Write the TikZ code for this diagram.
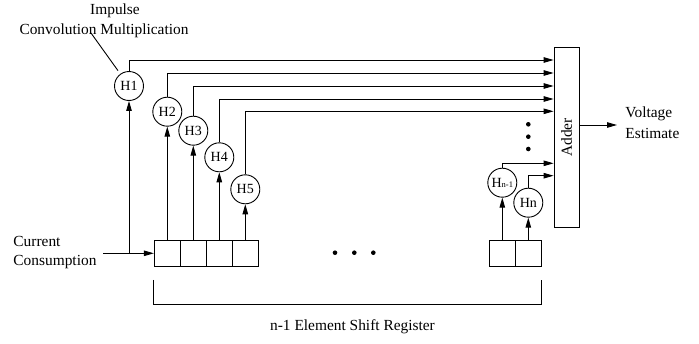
\documentclass[tikz,border=0pt]{standalone}
\usepackage{fontspec}
\setmainfont{Liberation Serif}
\usetikzlibrary{arrows.meta,calc}
\begin{document}
\begin{tikzpicture}[x=1pt,y=-1pt, line width=0.9pt,
  arr/.style={-{Triangle[length=10pt,width=5.5pt]}},
  hcirc/.style={circle,draw,minimum size=29pt,inner sep=0pt,font=\fontsize{14}{14}\selectfont},
  regbox/.style={draw,minimum width=26pt,minimum height=25.5pt,inner sep=0pt},
  lbl/.style={font=\fontsize{15.4}{19}\selectfont, inner sep=0pt},
  dot/.style={circle,fill,inner sep=0pt,minimum size=4.6pt}]
\useasboundingbox (0,0) rectangle (699,343);
% shift register cells
\node[regbox] (r1) at (167.3,253.3) {};
\node[regbox] (r2) at (193.3,253.3) {};
\node[regbox] (r3) at (219.3,253.3) {};
\node[regbox] (r4) at (245.3,253.3) {};
\node[regbox] (s1) at (502.3,253.3) {};
\node[regbox] (s2) at (528.3,253.3) {};
% filters
\node[hcirc] (h1) at (129,86) {H1};
\node[hcirc] (h2) at (167.3,111.7) {H2};
\node[hcirc] (h3) at (193.3,130.7) {H3};
\node[hcirc] (h4) at (219.3,157.3) {H4};
\node[hcirc] (h5) at (245.3,189.3) {H5};
\node[hcirc] (hn1) at (502.3,182.7) {H{\fontsize{8.5}{8.5}\selectfont n-1}};
\node[hcirc] (hn) at (528.3,202.7) {Hn};
% adder
\node[draw,minimum width=25.3pt,minimum height=180pt,inner sep=0pt,lbl] (adder) at (566.7,137.3) {\rotatebox{90}{Adder}};
% levels
\coordinate (y1) at (0,60);
\coordinate (y2) at (0,73);
\coordinate (y3) at (0,86);
\coordinate (y4) at (0,99);
\coordinate (y5) at (0,111.3);
\coordinate (yn1) at (0,163.3);
\coordinate (yn) at (0,175.7);
\draw[arr] (h1.north) |- (adder.west |- y1);
\draw[arr] (h2.north) |- (adder.west |- y2);
\draw[arr] (h3.north) |- (adder.west |- y3);
\draw[arr] (h4.north) |- (adder.west |- y4);
\draw[arr] (h5.north) |- (adder.west |- y5);
\draw[arr] (hn1.north) |- (adder.west |- yn1);
\draw[arr] (hn.north) |- (adder.west |- yn);
% input
\node[lbl,align=left,anchor=west] (cc) at (13,252.2) {Current\\Consumption};
\coordinate (in) at (103,253.3);
\draw[arr] (in) -- (r1.west);
\draw[arr] (h1 |- r1.west) -- (h1.south);
\draw[arr] (r1.north) -- (h2.south);
\draw[arr] (r2.north) -- (h3.south);
\draw[arr] (r3.north) -- (h4.south);
\draw[arr] (r4.north) -- (h5.south);
\draw[arr] (s1.north) -- (hn1.south);
\draw[arr] (s2.north) -- (hn.south);
% bracket
\draw ($(r1.south west)+(0,13.3)$) -- ++(0,25) -| ($(s2.south east)+(0,13.3)$);
\node[lbl] (reg) at (352.5,326.7) {n-1 Element Shift Register};
% dots
\node[dot] (d1) at (335,252.7) {};
\node[dot] (d2) at (354.3,252.7) {};
\node[dot] (d3) at (373.3,252.7) {};
\node[dot] (v1) at (528.3,124.3) {};
\node[dot] (v2) at (528.3,136.7) {};
\node[dot] (v3) at (528.3,149) {};
% top labels
\node[lbl] (imp) at (115,11) {Impulse};
\node[lbl] (conv) at (104,31) {Convolution Multiplication};
\coordinate (lead) at (91,33);
\draw[shorten >=4pt] (lead) -- (h1);
% output
\node[lbl,align=left,anchor=west,font=\fontsize{15.4}{20.6}\selectfont] (vout) at (625,123) {Voltage\\Estimate};
\coordinate (oy) at (0,125);
\draw[arr] (adder.east |- oy) -- ($(vout.west |- oy)+(-8,0)$);
\end{tikzpicture}
\end{document}
